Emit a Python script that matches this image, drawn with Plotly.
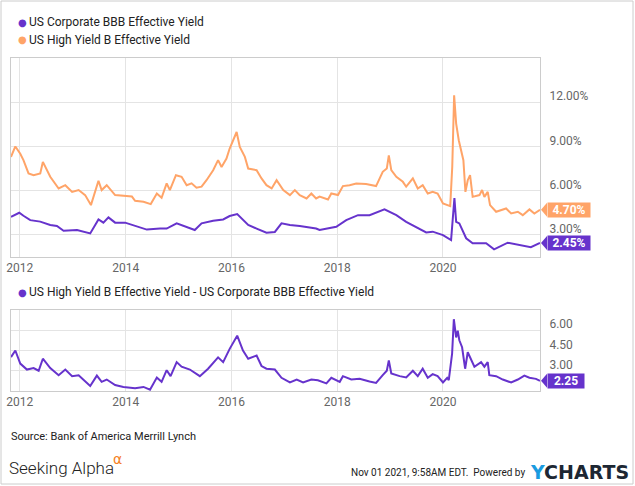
import plotly.graph_objects as go

# US Corporate BBB Effective Yield (%)
bbb_dates = ['2011-11-01', '2011-12-28', '2012-01-26', '2012-03-13', '2012-05-21', '2012-07-29',
             '2012-09-13', '2012-10-29', '2013-01-30', '2013-05-01', '2013-06-27', '2013-07-31',
             '2013-09-04', '2013-10-20', '2013-12-28', '2014-03-07', '2014-05-27', '2014-08-26',
             '2014-10-11', '2014-12-19', '2015-02-26', '2015-04-23', '2015-06-09', '2015-08-28',
             '2015-11-05', '2015-12-20', '2016-02-10', '2016-03-21', '2016-04-26', '2016-06-23',
             '2016-08-30', '2016-10-27', '2016-12-12', '2017-02-08', '2017-04-17', '2017-08-08',
             '2017-09-01', '2017-12-25', '2018-03-04', '2018-05-24', '2018-08-12', '2018-11-23',
             '2019-02-13', '2019-04-22', '2019-07-23', '2019-09-07', '2019-10-22', '2020-01-01',
             '2020-02-26', '2020-03-20', '2020-04-01', '2020-04-23', '2020-06-09', '2020-07-24',
             '2020-10-25', '2020-12-19', '2021-03-23', '2021-06-10', '2021-08-30', '2021-11-01']
bbb_vals = [4.23, 4.50, 4.30, 4.00, 3.90, 3.67,
            3.60, 3.28, 3.33, 3.10, 4.05, 3.83,
            4.19, 3.83, 3.83, 3.63, 3.36, 3.43,
            3.43, 3.78, 3.56, 3.33, 3.78, 3.96,
            4.05, 4.28, 4.41, 4.00, 3.67, 3.43,
            3.15, 3.20, 3.78, 3.67, 3.60, 3.43,
            3.33, 3.55, 4.00, 4.34, 4.34, 4.73,
            4.34, 3.89, 3.44, 3.17, 3.22, 2.99,
            2.65, 5.50, 3.89, 3.78, 2.77, 2.43,
            2.43, 2.02, 2.47, 2.31, 2.16, 2.45]

# US High Yield B Effective Yield (%)
hy_dates = ['2011-11-01', '2011-12-01', '2012-01-04', '2012-01-26', '2012-03-01', '2012-04-05',
            '2012-05-21', '2012-06-08', '2012-07-29', '2012-09-25', '2012-11-10', '2012-12-27',
            '2013-02-10', '2013-03-27', '2013-05-06', '2013-06-27', '2013-07-19', '2013-08-23',
            '2013-10-20', '2013-12-28', '2014-02-13', '2014-03-07', '2014-05-04', '2014-06-23',
            '2014-08-04', '2014-09-06', '2014-10-11', '2014-11-02', '2014-12-14', '2015-01-22',
            '2015-02-26', '2015-04-01', '2015-05-05', '2015-06-09', '2015-07-13', '2015-08-28',
            '2015-10-01', '2015-10-25', '2015-11-28', '2015-12-20', '2016-01-13', '2016-02-06',
            '2016-02-28', '2016-04-03', '2016-04-26', '2016-06-23', '2016-07-27', '2016-08-30',
            '2016-10-05', '2016-11-08', '2016-12-24', '2017-02-08', '2017-03-14', '2017-04-17',
            '2017-06-03', '2017-07-06', '2017-08-08', '2017-09-01', '2017-10-29', '2017-11-21',
            '2018-01-06', '2018-02-09', '2018-03-27', '2018-05-12', '2018-07-19', '2018-09-26',
            '2018-11-11', '2018-12-09', '2018-12-23', '2019-01-09', '2019-02-13', '2019-03-30',
            '2019-04-22', '2019-06-07', '2019-07-11', '2019-08-14', '2019-09-18', '2019-10-22',
            '2019-11-25', '2020-01-01', '2020-02-20', '2020-03-05', '2020-03-18', '2020-04-01',
            '2020-04-19', '2020-05-05', '2020-05-21', '2020-06-04', '2020-06-20', '2020-07-06',
            '2020-07-24', '2020-09-09', '2020-09-27', '2020-10-13', '2020-11-05', '2020-11-21',
            '2021-01-02', '2021-03-12', '2021-04-16', '2021-06-01', '2021-07-05', '2021-08-20',
            '2021-09-23', '2021-11-01']
hy_vals = [8.29, 9.00, 8.50, 8.07, 7.17, 7.05,
           7.17, 7.95, 6.94, 6.15, 6.37, 5.92,
           6.04, 5.70, 5.02, 6.67, 6.04, 6.37,
           5.70, 5.63, 5.60, 5.31, 5.25, 5.09,
           5.81, 5.52, 6.49, 6.04, 7.05, 6.94,
           6.37, 6.50, 6.20, 6.27, 6.71, 7.39,
           8.07, 7.61, 8.18, 8.86, 9.42, 9.98,
           8.97, 8.29, 7.50, 7.39, 6.83, 6.37,
           6.15, 6.71, 6.04, 5.70, 6.04, 5.70,
           5.47, 5.81, 5.47, 5.60, 5.40, 5.81,
           5.70, 6.31, 6.37, 6.49, 6.45, 6.31,
           7.28, 7.50, 8.40, 7.39, 6.94, 6.60,
           6.27, 6.83, 6.15, 6.37, 5.81, 5.92,
           5.81, 5.13, 4.95, 7.60, 12.47, 10.55,
           9.42, 8.63, 8.07, 5.92, 6.71, 7.05,
           5.58, 5.70, 6.04, 5.58, 5.92, 5.02,
           4.57, 4.79, 4.45, 4.57, 4.34, 4.73,
           4.45, 4.70]

# US High Yield B Effective Yield - US Corporate BBB Effective Yield
spread_dates = ['2011-11-01', '2011-12-01', '2012-01-04', '2012-02-19', '2012-04-05', '2012-05-10',
                '2012-06-08', '2012-07-29', '2012-09-25', '2012-11-10', '2012-12-27', '2013-02-10',
                '2013-05-01', '2013-06-16', '2013-07-19', '2013-08-23', '2013-10-20', '2013-12-16',
                '2014-03-07', '2014-05-04', '2014-06-18', '2014-08-04', '2014-09-06', '2014-10-11',
                '2014-11-07', '2014-12-19', '2015-01-22', '2015-03-20', '2015-05-28', '2015-07-24',
                '2015-10-01', '2015-11-05', '2015-12-20', '2016-02-10', '2016-03-21', '2016-04-26',
                '2016-06-23', '2016-07-27', '2016-08-30', '2016-10-27', '2016-12-12', '2017-02-08',
                '2017-03-27', '2017-05-10', '2017-07-06', '2017-08-20', '2017-10-18', '2017-11-21',
                '2018-01-18', '2018-02-09', '2018-04-08', '2018-06-04', '2018-08-12', '2018-09-26',
                '2018-11-11', '2018-12-09', '2018-12-23', '2019-01-09', '2019-03-08', '2019-04-22',
                '2019-06-07', '2019-07-11', '2019-08-14', '2019-09-18', '2019-10-22', '2019-11-25',
                '2020-01-01', '2020-01-30', '2020-02-10', '2020-03-04', '2020-03-16', '2020-04-01',
                '2020-04-12', '2020-04-23', '2020-05-12', '2020-06-02', '2020-06-20', '2020-07-14',
                '2020-08-05', '2020-09-20', '2020-10-13', '2020-11-05', '2020-11-16', '2021-01-02',
                '2021-02-17', '2021-04-16', '2021-06-01', '2021-07-16', '2021-08-20', '2021-10-04',
                '2021-11-01']
spread_vals = [4.01, 4.50, 3.53, 3.09, 3.20, 3.00,
               3.89, 3.20, 2.67, 3.09, 2.60, 2.67,
               1.87, 2.64, 2.18, 2.35, 1.94, 1.80,
               1.70, 1.80, 1.60, 2.50, 2.18, 3.04,
               2.60, 3.64, 3.30, 3.09, 2.60, 3.15,
               3.99, 3.64, 4.62, 5.60, 4.50, 3.89,
               4.13, 3.35, 3.15, 3.09, 2.48, 2.13,
               2.35, 2.13, 2.35, 2.30, 2.06, 2.48,
               2.18, 2.60, 2.35, 2.40, 2.20, 2.10,
               2.67, 3.00, 3.77, 2.80, 2.60, 2.50,
               3.00, 2.60, 3.15, 2.48, 2.75, 2.60,
               2.13, 2.48, 2.30, 4.26, 6.82, 5.47,
               5.96, 5.26, 4.74, 3.15, 4.37, 3.77,
               3.30, 3.64, 3.30, 3.64, 2.67, 2.60,
               2.35, 2.13, 2.35, 2.64, 2.48, 2.40,
               2.25]

top_ticks = [3, 6, 9, 12]
bottom_ticks = [3, 4.5, 6]

W, H = 635, 486
PURPLE = '#6633cc'
ORANGE = '#ffa468'
GRID = '#e4e4e4'
FRAME = '#cccccc'


def px(x):
    return x / W


def py(y):
    return 1 - y / H


fig = go.Figure()
fig.add_trace(go.Scatter(x=hy_dates, y=hy_vals, mode='lines', line=dict(color=ORANGE, width=2),
                         xaxis='x', yaxis='y'))
fig.add_trace(go.Scatter(x=bbb_dates, y=bbb_vals, mode='lines', line=dict(color=PURPLE, width=2),
                         xaxis='x', yaxis='y'))
fig.add_trace(go.Scatter(x=spread_dates, y=spread_vals, mode='lines', line=dict(color=PURPLE, width=2),
                         xaxis='x2', yaxis='y2'))

xcommon = dict(range=['2011-11-01', '2021-11-01'], dtick='M24', tick0='2012-01-01', tickformat='%Y',
               showgrid=True, gridcolor=GRID, showline=True, mirror=True, linecolor=FRAME,
               ticks='', tickfont=dict(family='Roboto', size=12, color='#666666'),
               zeroline=False, automargin=False, domain=[px(11), px(540)])
ycommon = dict(side='right', showgrid=True, gridcolor=GRID, showline=True, mirror=True,
               linecolor=FRAME, ticks='', tickfont=dict(family='Roboto', size=12, color='#666666'),
               zeroline=False, automargin=False, ticklabelstandoff=6, ticklabelshift=-6)

fig.update_layout(
    width=W, height=H, autosize=False,
    margin=dict(l=0, r=0, t=0, b=0),
    paper_bgcolor='white', plot_bgcolor='white',
    showlegend=False,
    xaxis=dict(xcommon, anchor='y'),
    xaxis2=dict(xcommon, anchor='y2'),
    yaxis=dict(ycommon, anchor='x', domain=[py(257), py(58)], range=[1.5, 15],
               tickvals=top_ticks, ticktext=['%.2f%%' % v for v in top_ticks]),
    yaxis2=dict(ycommon, anchor='x2', domain=[py(391), py(310)], range=[1.5, 7.5],
                tickvals=bottom_ticks, ticktext=['%.2f' % v for v in bottom_ticks]),
)

ann = []
shapes = []


def legend_item(y, color, text):
    ann.append(dict(xref='paper', yref='paper', x=px(16), y=py(y), xanchor='left', yanchor='middle',
                    text='●', showarrow=False, font=dict(family='DejaVu Sans', size=10, color=color)))
    ann.append(dict(xref='paper', yref='paper', x=px(27), y=py(y), xanchor='left', yanchor='middle',
                    text=text, showarrow=False, font=dict(family='Roboto', size=12, color='#222222')))


legend_item(22, PURPLE, 'US Corporate BBB Effective Yield')
legend_item(40, ORANGE, 'US High Yield B Effective Yield')
legend_item(292, PURPLE, 'US High Yield B Effective Yield - US Corporate BBB Effective Yield')


def end_tag(yref, value, text, color, width):
    ann.append(dict(xref='paper', yref=yref, x=px(547), y=value, xanchor='left', yanchor='middle',
                    text='<b>%s</b>' % text, showarrow=False, bgcolor=color, borderpad=1,
                    width=width, height=12, align='center',
                    font=dict(family='Roboto', size=12, color='white')))
    shapes.append(dict(type='path', xref='paper', yref=yref, xsizemode='pixel', ysizemode='pixel',
                       xanchor=px(547), yanchor=value, path='M -6,0 L 0,7 L 0,-7 Z',
                       fillcolor=color, line=dict(width=0)))


end_tag('y', hy_vals[-1], '%.2f%%' % hy_vals[-1], ORANGE, 40)
end_tag('y', bbb_vals[-1], '%.2f%%' % bbb_vals[-1], PURPLE, 40)
end_tag('y2', spread_vals[-1], '%.2f' % spread_vals[-1], PURPLE, 34)

ann.append(dict(xref='paper', yref='paper', x=px(9), y=py(436), xanchor='left', yanchor='middle',
                text='Source: Bank of America Merrill Lynch', showarrow=False,
                font=dict(family='Roboto', size=11, color='#222222')))
ann.append(dict(xref='paper', yref='paper', x=px(7), y=py(468), xanchor='left', yanchor='middle',
                text='Seeking Alpha', showarrow=False,
                font=dict(family='Roboto', size=17, color='#222222', weight=300)))
ann.append(dict(xref='paper', yref='paper', x=px(111), y=py(459), xanchor='left', yanchor='middle',
                text='α', showarrow=False, font=dict(family='DejaVu Sans', size=14, color='#f58025')))
ann.append(dict(xref='paper', yref='paper', x=px(527), y=py(472), xanchor='right', yanchor='middle',
                text='Nov 01 2021, 9:58AM EDT.  Powered by', showarrow=False,
                font=dict(family='Roboto', size=10, color='#222222')))
ann.append(dict(xref='paper', yref='paper', x=px(528), y=py(472), xanchor='left', yanchor='middle',
                text="<b><span style='color:#1a9be0'>Y</span>CHARTS</b>", showarrow=False,
                font=dict(family='DejaVu Sans', size=19, color='#1d2733')))

shapes.append(dict(type='rect', xref='paper', yref='paper', x0=px(1), x1=px(633), y0=py(484), y1=py(1),
                   line=dict(color=FRAME, width=1), fillcolor='rgba(0,0,0,0)', layer='below'))

fig.update_layout(annotations=ann, shapes=shapes)
fig.write_html('out.html', config={'displayModeBar': False},
               post_script="document.body.style.margin='0';")
